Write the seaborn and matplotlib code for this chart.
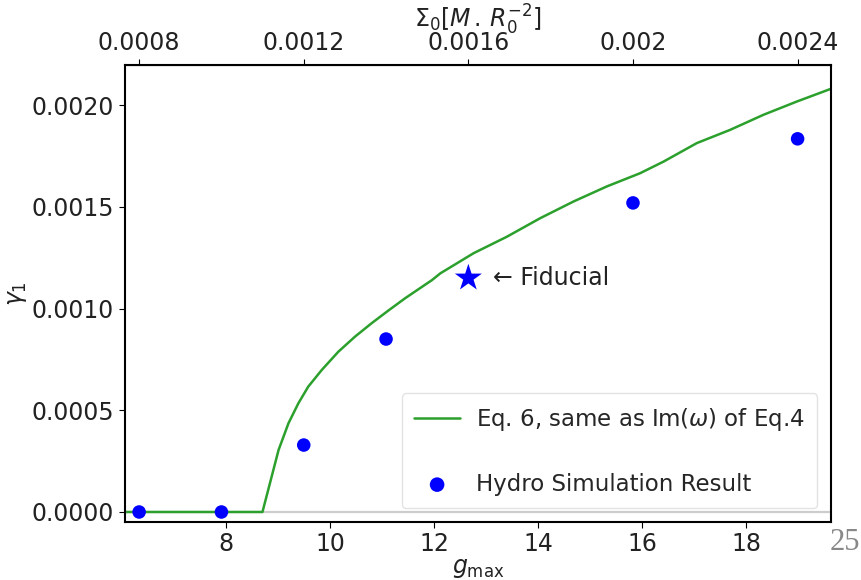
import numpy as np
import pandas as pd
import matplotlib
matplotlib.use("Agg")
import matplotlib.pyplot as plt
import seaborn as sns

# curve (Eq. 6)
curve_g = [6.05, 8.70, 9.01, 9.20, 9.39, 9.58, 9.84, 10.16, 10.48, 10.80, 11.12, 11.44, 11.96,
           12.12, 12.76, 13.40, 14.04, 14.68, 15.32, 15.96, 16.41, 17.05, 17.69, 18.33, 18.97, 19.63]
curve_gamma = [0.0, 0.0, 0.000305, 0.000436, 0.000534, 0.000616, 0.000698, 0.000788, 0.000862,
               0.000928, 0.00099, 0.00105, 0.00114, 0.001173, 0.001272, 0.001353, 0.001444,
               0.001526, 0.0016, 0.001665, 0.001722, 0.001813, 0.001878, 0.001952, 0.002017, 0.00208]

# hydro simulation points
sigma0 = [0.0008, 0.0010, 0.0012, 0.0014, 0.0020, 0.0024]
sim_gamma = [0.0, 0.0, 0.000329, 0.00085, 0.001519, 0.001834]

# fiducial run
fid_sigma = 0.0016
fid_gamma = 0.00115

k = 0.0001264  # Sigma0 per unit g_max
top_ticks = [0.0008, 0.0012, 0.0016, 0.002, 0.0024]
top_labels = ["0.0008", "0.0012", "0.0016", "0.002", "0.0024"]
y_ticks = [0.0, 0.0005, 0.0010, 0.0015, 0.0020]

sns.set_style("ticks")
plt.rcParams["font.family"] = ["DejaVu Sans"]
plt.rcParams["axes.edgecolor"] = "black"
plt.rcParams["xtick.color"] = "black"
plt.rcParams["ytick.color"] = "black"

fig = plt.figure(figsize=(8.61, 5.8), dpi=100)
ax = fig.add_axes([0.1446, 0.1, 0.8206, 0.788])

curve = pd.DataFrame({"g": curve_g, "gamma": curve_gamma})
sim = pd.DataFrame({"g": np.array(sigma0) / k, "gamma": sim_gamma})

ax.axhline(0, color="#cccccc", lw=1.6, zorder=0)
sns.lineplot(data=curve, x="g", y="gamma", ax=ax, color="#2ca02c", lw=1.8,
             estimator=None, sort=False, label="Eq. 6, same as Im($\\omega$) of Eq.4")
sns.scatterplot(data=sim, x="g", y="gamma", ax=ax, color="blue", s=95,
                edgecolor="none", label="Hydro Simulation Result", zorder=3)
ax.scatter([fid_sigma / k], [fid_gamma], marker="*", s=420, color="blue", edgecolor="none", zorder=3)
ax.text(13.13, fid_gamma, "\u2190 Fiducial", fontsize=17, va="center", ha="left", color="#222222")

ax.set_xlim(6.048, 19.63)
ax.set_ylim(-0.0000492, 0.002197)
ax.set_xticks([8, 10, 12, 14, 16, 18])
ax.set_yticks(y_ticks)
ax.set_yticklabels(["%.4f" % v for v in y_ticks])
ax.tick_params(labelsize=17, length=4, width=0.8, labelcolor="#222222")
ax.set_xlabel(r"$g_{\max}$", fontsize=17, labelpad=0, color="#222222")
ax.set_ylabel(r"$\gamma_1$", fontsize=17, labelpad=2, color="#222222")
for s in ax.spines.values():
    s.set_visible(True)
    s.set_linewidth(1.5)

top = ax.secondary_xaxis("top", functions=(lambda x: x * k, lambda x: x / k))
top.set_xticks(top_ticks)
top.set_xticklabels(top_labels)
top.tick_params(labelsize=17, length=4, width=0.8, labelcolor="#222222")
fig.text(478 / 861, 1 - 20 / 580, r"$\Sigma_0[M\,.\,R_0^{-2}]$", fontsize=17,
         ha="center", va="center", color="#222222")

leg = ax.legend(loc="lower right", fontsize=16.5, labelspacing=1.75, handlelength=2.0,
                handletextpad=0.7, borderpad=0.55, borderaxespad=0.6,
                frameon=True, framealpha=0.8, edgecolor="#dddddd")
for h in leg.legend_handles:
    if hasattr(h, "set_sizes"):
        h.set_sizes([110])

fig.text(845 / 861, 1 - 543 / 580, "25", family="Liberation Serif", fontsize=22,
         color="#888888", ha="center", va="center")

fig.savefig("out.png", dpi=100)
